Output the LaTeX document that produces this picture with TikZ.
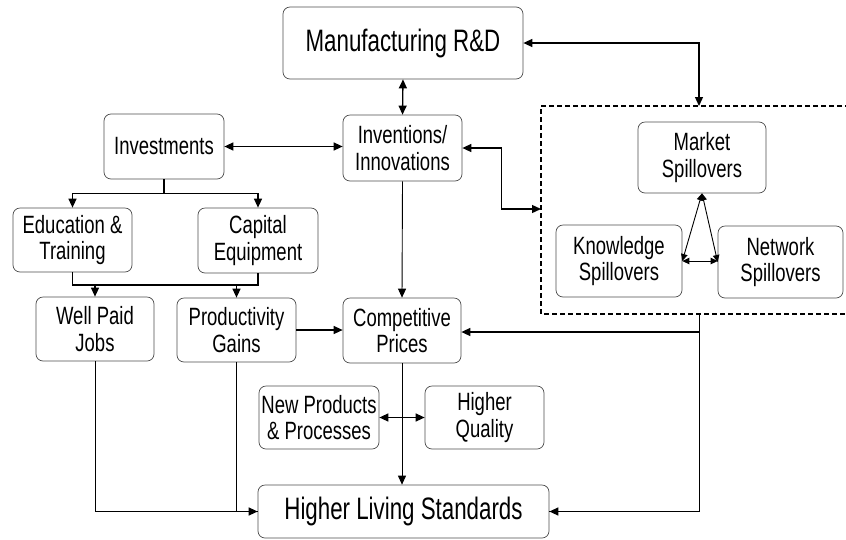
\documentclass[tikz,border=0pt]{standalone}
\usepackage{fontspec}
\setmainfont[FakeStretch=0.74]{Liberation Sans}
\newfontfamily\bigfont[FakeStretch=0.72]{Liberation Sans}
\usetikzlibrary{arrows.meta}
\begin{document}
\begin{tikzpicture}[x=1pt,y=1pt,
  box/.style={draw=black!70, line width=0.7pt, rounded corners=7pt, inner sep=0pt,
              align=center, font=\fontsize{25}{26.5}\selectfont},
  bigbox/.style={box, font=\bigfont\fontsize{31}{33}\selectfont},
  tip/.tip={Triangle[length=9pt,width=8pt]},
  smalltip/.tip={Triangle[length=7pt,width=6.5pt]},
  conn/.style={line width=1.3pt, -tip},
  dconn/.style={line width=1.3pt, tip-tip},
  thinconn/.style={line width=0.9pt, -tip},
  spill/.style={line width=0.9pt, smalltip-smalltip},
  plain/.style={line width=1.3pt},
  thinplain/.style={line width=0.8pt},
  group/.style={line width=1.3pt, dash pattern=on 5pt off 3pt}
]
\useasboundingbox (0,0) rectangle (846,-539);

% nodes
\node[bigbox, minimum width=240, minimum height=72] (mrd) at (403,-43) {Manufacturing R\&D};
\node[box, minimum width=120, minimum height=65] (inv) at (164,-146.5) {Investments};
\node[box, minimum width=119, minimum height=66] (inn) at (402.5,-148) {Inventions/\\Innovations};
\node[box, minimum width=128, minimum height=71] (mkt) at (702,-157.5) {Market\\Spillovers};
\node[box, minimum width=126, minimum height=72] (know) at (619,-261) {Knowledge\\Spillovers};
\node[box, minimum width=125, minimum height=72] (net) at (780.5,-262) {Network\\Spillovers};
\node[box, minimum width=119, minimum height=64] (edu) at (72.5,-240) {Education \&\\Training};
\node[box, minimum width=120, minimum height=65] (cap) at (258,-240.5) {Capital\\Equipment};
\node[box, minimum width=118, minimum height=64] (wpj) at (95,-329) {Well Paid\\Jobs};
\node[box, minimum width=119, minimum height=64] (prod) at (236.5,-330) {Productivity\\Gains};
\node[box, minimum width=118, minimum height=65] (comp) at (402,-330.5) {Competitive\\Prices};
\node[box, minimum width=120, minimum height=63] (np) at (319,-417.5) {New Products\\\& Processes};
\node[box, minimum width=119, minimum height=63] (hq) at (484.5,-417.5) {Higher\\Quality};
\node[bigbox, minimum width=291, minimum height=53] (hls) at (403.5,-511.5) {Higher Living Standards};

% dashed spillover group (right side runs off the picture)
\coordinate (dtop) at (699,-106);
\coordinate (dleft) at (541,-209);
\coordinate (dbot) at (699,-314);
\draw[group] (850,-106) -- (541,-106) -- (541,-314) -- (850,-314);

% connectors
\draw[dconn] (mrd.south) -- (inn.north);
\draw[dconn] (inv.east) -- (inv.east -| inn.west);
\draw[dconn] (mrd.east) -| (dtop);
\draw[dconn] (inn.east) -- ++(39,0) |- (dleft);

\draw[spill] (mkt.south) -- (know.east);
\draw[spill] (mkt.south) -- (net.west);
\draw[spill] (know.east) -- (know.east -| net.west);

\draw[plain] (inv.south) -- ++(0,-14) coordinate (j1);
\draw[conn] (j1) -| (edu.north);
\draw[conn] (j1) -| (cap.north);

\draw[plain] (edu.south) -- (edu.south |- 0,-285) -- (cap.south |- 0,-285) -- (cap.south);
\draw[conn] (wpj.north |- 0,-285) -- (wpj.north);
\draw[conn] (prod.north |- 0,-285) -- (prod.north);

\draw[conn] (prod.east) -- (prod.east -| comp.west);
\draw[thinconn] (inn.south) -- (comp.north);

\draw[thinplain] (dbot) |- (hls.east);
\draw[conn] (dbot |- 0,-332) -- (comp.east |- 0,-332);
\draw[conn] (hls.east -| dbot) -- (hls.east);

\draw[thinconn] (comp.south) -- (comp.south |- hls.north);
\draw[dconn] (np.east) -- (hq.west);

\draw[thinplain] (wpj.south) |- (hls.west);
\draw[conn] (wpj.south |- hls.west) -- (hls.west);
\draw[thinplain] (prod.south) -- (prod.south |- hls.west);
\end{tikzpicture}
\end{document}
